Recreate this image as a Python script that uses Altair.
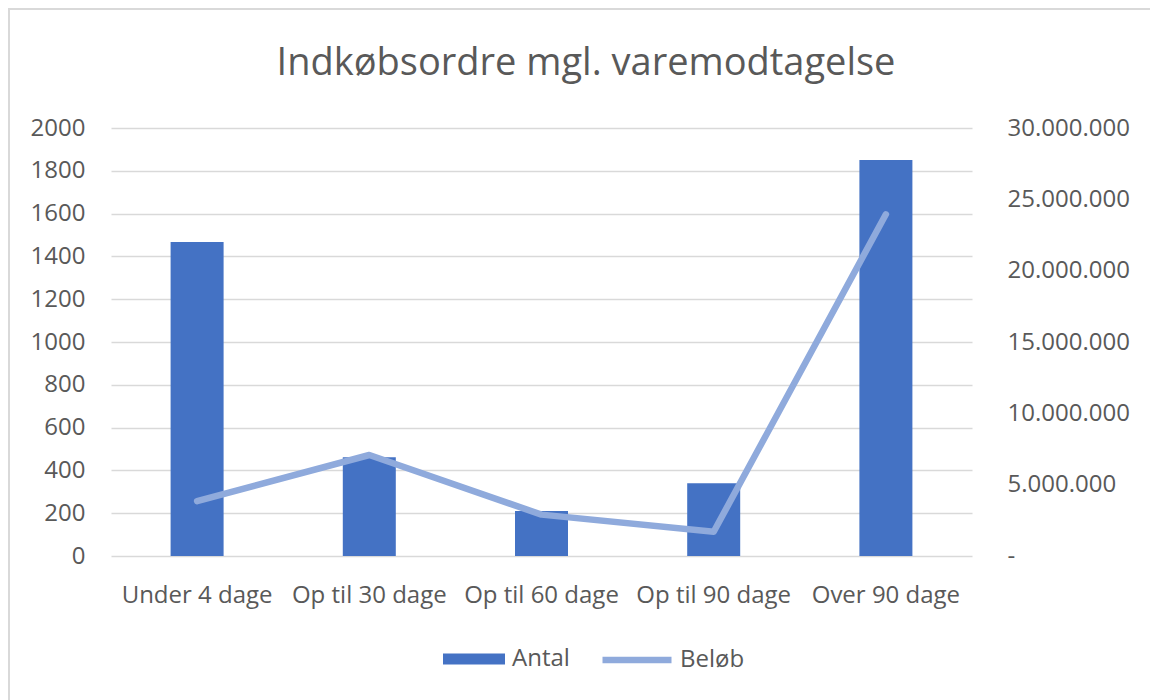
import altair as alt
import pandas as pd

categories = ["Under 4 dage", "Op til 30 dage", "Op til 60 dage", "Op til 90 dage", "Over 90 dage"]
antal = [1467, 462, 210, 340, 1850]
beloeb = [3850000, 7080000, 2900000, 1700000, 23950000]

left_ticks = [0, 200, 400, 600, 800, 1000, 1200, 1400, 1600, 1800, 2000]
right_ticks = [0, 5000000, 10000000, 15000000, 20000000, 25000000, 30000000]
title_text = "Indkøbsordre mgl. varemodtagelse"

df = pd.DataFrame({"Kategori": categories, "Antal": antal, "Beløb": beloeb,
                   "sA": ["Antal"] * 5, "sB": ["Beløb"] * 5})

FONT = "Open Sans"
GREY = "#595959"
BAR = "#4472C4"
LINE = "#8FAADC"
FS = 24

x_enc = alt.X("Kategori:N", sort=categories, title=None,
              scale=alt.Scale(paddingInner=0.69, paddingOuter=0.345),
              axis=alt.Axis(labelAngle=0, labelFontSize=FS, labelColor=GREY, labelFont=FONT,
                            labelPadding=27, domain=False, ticks=False, grid=False))

bars = alt.Chart(df).mark_bar(size=53).encode(
    x=x_enc,
    y=alt.Y("Antal:Q", title=None,
            scale=alt.Scale(domain=[0, 2000], nice=False),
            axis=alt.Axis(values=left_ticks, format="d", labelFontSize=FS, labelColor=GREY,
                          labelFont=FONT, labelPadding=26, domain=False, ticks=False, grid=True,
                          gridColor="#D9D9D9", gridWidth=1.6)),
    fill=alt.Fill("sA:N", title=None,
                  scale=alt.Scale(domain=["Antal"], range=[BAR]),
                  legend=alt.Legend(orient="none", legendX=332, legendY=500,
                                    symbolType="M-1,-0.18H1V0.18H-1Z", symbolSize=3844,
                                    labelFontSize=FS, labelColor=GREY, labelFont=FONT,
                                    symbolStrokeWidth=0, labelOffset=7, padding=0)),
)

line = alt.Chart(df).mark_line(strokeWidth=6.5, strokeCap="round", strokeJoin="round").encode(
    x=alt.X("Kategori:N", sort=categories),
    y=alt.Y("Beløb:Q", title=None,
            scale=alt.Scale(domain=[0, 30000000], nice=False),
            axis=alt.Axis(orient="right", values=right_ticks, labelFontSize=FS, labelColor=GREY,
                          labelFont=FONT, labelPadding=35, domain=False, ticks=False, grid=False,
                          format=",d",
                          labelExpr="datum.value == 0 ? '-' : replace(replace(datum.label, ',', '.'), ',', '.')")),
    stroke=alt.Stroke("sB:N", title=None,
                      scale=alt.Scale(domain=["Beløb"], range=[LINE]),
                      legend=alt.Legend(orient="none", legendX=488, legendY=494,
                                        symbolType="stroke", symbolSize=4761, symbolStrokeWidth=6.5,
                                        labelFontSize=FS, labelColor=GREY, labelFont=FONT,
                                        labelOffset=5, padding=0)),
)

one = pd.DataFrame({"t": [title_text]})
title = alt.Chart(one).mark_text(font=FONT, fontSize=38, color=GREY, align="center",
                                 baseline="middle", clip=False).encode(
    text="t:N", x=alt.value(475), y=alt.value(-64))

top_border = alt.Chart(one).mark_rule(color="#D9D9D9", strokeWidth=2, clip=False).encode(
    x=alt.value(-103), x2=alt.value(1045), y=alt.value(-119))
left_border = alt.Chart(one).mark_rule(color="#D9D9D9", strokeWidth=2, clip=False).encode(
    x=alt.value(-102), y=alt.value(-120), y2=alt.value(572))

chart = alt.layer(bars, line, title, top_border, left_border).resolve_scale(
    y="independent", fill="independent", stroke="independent"
).properties(
    width=861, height=428,
    background="white",
    padding={"left": 103, "top": 120, "right": 178, "bottom": 144},
    autosize=alt.AutoSizeParams(type="none"),
).configure_view(strokeWidth=0)

chart.save("out.html", embed_options={"renderer": "svg", "actions": False})
